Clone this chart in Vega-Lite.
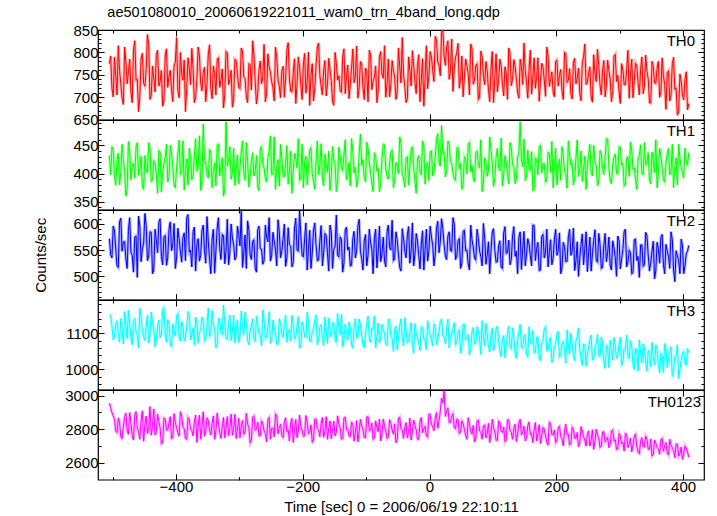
{
"$schema": "https://vega.github.io/schema/vega-lite/v6.json",
"padding": {"left": 33, "top": 5, "right": 5, "bottom": 2},
"bounds": "flush",
"title": {"text": "ae501080010_20060619221011_wam0_trn_4band_long.qdp", "anchor": "start", "dx": 74, "fontSize": 14.5, "fontWeight": "normal", "font": "Liberation Sans", "color": "#000", "offset": 1.5},
"config": {
  "view": {"stroke": "#000", "strokeWidth": 1.2},
  "axis": {"labelFont": "Liberation Sans", "labelFontSize": 15, "labelColor": "#000", "tickColor": "#000", "tickWidth": 1, "domain": false, "grid": false, "titleFont": "Liberation Sans", "titleFontSize": 15, "titleFontWeight": "normal", "titleColor": "#000", "labelFlush": false, "labelOverlap": false, "labelBound": false},
  "text": {"font": "Liberation Sans", "fontSize": 15, "color": "#000"},
  "point": {"size": 1}
},
"data": {"values": [
{"t":-505,"a":775,"b":432,"c":572,"d":1148,"e":2955},
{"t":-503,"a":792,"b":398,"c":541,"d":1150,"e":2930},
{"t":-501,"a":720,"b":448,"c":535,"d":1120,"e":2900},
{"t":-499,"a":701,"b":441,"c":596,"d":1082,"e":2880},
{"t":-497,"a":790,"b":398,"c":588,"d":1090,"e":2860},
{"t":-495,"a":748,"b":379,"c":552,"d":1127,"e":2790},
{"t":-493,"a":705,"b":425,"c":520,"d":1135,"e":2780},
{"t":-491,"a":815,"b":436,"c":517,"d":1096,"e":2868},
{"t":-489,"a":760,"b":380,"c":604,"d":1075,"e":2840},
{"t":-487,"a":730,"b":402,"c":611,"d":1141,"e":2755},
{"t":-485,"a":698,"b":452,"c":548,"d":1112,"e":2745},
{"t":-483,"a":684,"b":425,"c":566,"d":1070,"e":2812},
{"t":-481,"a":812,"b":405,"c":566,"d":1160,"e":2870},
{"t":-479,"a":779,"b":360,"c":533,"d":1118,"e":2896},
{"t":-477,"a":730,"b":372,"c":515,"d":1085,"e":2790},
{"t":-475,"a":757,"b":457,"c":589,"d":1164,"e":2770},
{"t":-473,"a":785,"b":440,"c":612,"d":1128,"e":2900},
{"t":-471,"a":712,"b":389,"c":546,"d":1086,"e":2838},
{"t":-469,"a":688,"b":415,"c":540,"d":1068,"e":2760},
{"t":-467,"a":805,"b":418,"c":508,"d":1133,"e":2735},
{"t":-465,"a":826,"b":392,"c":575,"d":1142,"e":2885},
{"t":-463,"a":738,"b":447,"c":577,"d":1102,"e":2905},
{"t":-461,"a":740,"b":455,"c":498,"d":1095,"e":2805},
{"t":-459,"a":668,"b":397,"c":615,"d":1059,"e":2786},
{"t":-457,"a":702,"b":410,"c":596,"d":1170,"e":2740},
{"t":-455,"a":786,"b":431,"c":528,"d":1146,"e":2850},
{"t":-453,"a":798,"b":378,"c":552,"d":1105,"e":2910},
{"t":-451,"a":731,"b":372,"c":563,"d":1091,"e":2728},
{"t":-449,"a":725,"b":432,"c":620,"d":1080,"e":2830},
{"t":-447,"a":762,"b":408,"c":597,"d":1120,"e":2879},
{"t":-445,"a":840,"b":401,"c":530,"d":1150,"e":2775},
{"t":-443,"a":817,"b":455,"c":539,"d":1073,"e":2802},
{"t":-441,"a":695,"b":446,"c":585,"d":1098,"e":2935},
{"t":-439,"a":704,"b":386,"c":584,"d":1159,"e":2764},
{"t":-437,"a":770,"b":388,"c":505,"d":1130,"e":2820},
{"t":-435,"a":743,"b":423,"c":512,"d":1110,"e":2921},
{"t":-433,"a":712,"b":420,"c":590,"d":1062,"e":2765},
{"t":-431,"a":795,"b":399,"c":569,"d":1082,"e":2784},
{"t":-429,"a":805,"b":365,"c":545,"d":1118,"e":2890},
{"t":-427,"a":725,"b":441,"c":603,"d":1137,"e":2846},
{"t":-425,"a":735,"b":438,"c":610,"d":1088,"e":2810},
{"t":-423,"a":760,"b":367,"c":538,"d":1097,"e":2713},
{"t":-421,"a":680,"b":402,"c":522,"d":1165,"e":2720},
{"t":-419,"a":692,"b":418,"c":575,"d":1171,"e":2867},
{"t":-417,"a":792,"b":428,"c":578,"d":1100,"e":2860},
{"t":-415,"a":808,"b":452,"c":521,"d":1075,"e":2795},
{"t":-413,"a":722,"b":385,"c":535,"d":1138,"e":2795},
{"t":-411,"a":747,"b":393,"c":590,"d":1125,"e":2838},
{"t":-409,"a":760,"b":450,"c":604,"d":1070,"e":2875},
{"t":-407,"a":716,"b":436,"c":549,"d":1063,"e":2744},
{"t":-405,"a":690,"b":412,"c":560,"d":1126,"e":2750},
{"t":-403,"a":771,"b":378,"c":601,"d":1106,"e":2893},
{"t":-401,"a":778,"b":375,"c":515,"d":1092,"e":2840},
{"t":-399,"a":833,"b":412,"c":535,"d":1149,"e":2808},
{"t":-397,"a":715,"b":435,"c":592,"d":1155,"e":2780},
{"t":-395,"a":699,"b":459,"c":572,"d":1088,"e":2758},
{"t":-393,"a":800,"b":398,"c":548,"d":1078,"e":2905},
{"t":-391,"a":752,"b":402,"c":527,"d":1133,"e":2877},
{"t":-389,"a":738,"b":458,"c":574,"d":1120,"e":2815},
{"t":-387,"a":783,"b":371,"c":583,"d":1079,"e":2802},
{"t":-385,"a":668,"b":405,"c":530,"d":1090,"e":2745},
{"t":-383,"a":721,"b":426,"c":612,"d":1118,"e":2740},
{"t":-381,"a":788,"b":380,"c":618,"d":1160,"e":2870},
{"t":-379,"a":765,"b":445,"c":546,"d":1152,"e":2856},
{"t":-377,"a":728,"b":430,"c":550,"d":1082,"e":2800},
{"t":-375,"a":809,"b":389,"c":518,"d":1094,"e":2791},
{"t":-373,"a":765,"b":395,"c":585,"d":1115,"e":2760},
{"t":-371,"a":688,"b":431,"c":594,"d":1067,"e":2842},
{"t":-369,"a":700,"b":462,"c":510,"d":1145,"e":2885},
{"t":-367,"a":741,"b":404,"c":561,"d":1131,"e":2722},
{"t":-365,"a":812,"b":410,"c":572,"d":1072,"e":2820},
{"t":-363,"a":794,"b":467,"c":529,"d":1102,"e":2884},
{"t":-361,"a":732,"b":370,"c":540,"d":1108,"e":2740},
{"t":-359,"a":714,"b":381,"c":587,"d":1145,"e":2811},
{"t":-357,"a":755,"b":488,"c":598,"d":1135,"e":2905},
{"t":-355,"a":767,"b":425,"c":550,"d":1078,"e":2758},
{"t":-353,"a":690,"b":418,"c":525,"d":1085,"e":2790},
{"t":-351,"a":731,"b":398,"c":614,"d":1124,"e":2869},
{"t":-349,"a":796,"b":392,"c":566,"d":1170,"e":2850},
{"t":-347,"a":817,"b":442,"c":533,"d":1091,"e":2797},
{"t":-345,"a":720,"b":440,"c":505,"d":1098,"e":2765},
{"t":-343,"a":697,"b":375,"c":571,"d":1163,"e":2833},
{"t":-341,"a":770,"b":402,"c":590,"d":1125,"e":2880},
{"t":-339,"a":754,"b":419,"c":506,"d":1110,"e":2740},
{"t":-337,"a":705,"b":378,"c":548,"d":1060,"e":2790},
{"t":-335,"a":785,"b":451,"c":592,"d":1071,"e":2896},
{"t":-333,"a":788,"b":452,"c":612,"d":1140,"e":2840},
{"t":-331,"a":722,"b":396,"c":554,"d":1139,"e":2782},
{"t":-329,"a":738,"b":415,"c":532,"d":1102,"e":2745},
{"t":-327,"a":763,"b":428,"c":580,"d":1096,"e":2815},
{"t":-325,"a":676,"b":360,"c":578,"d":1178,"e":2870},
{"t":-323,"a":706,"b":372,"c":524,"d":1128,"e":2749},
{"t":-321,"a":802,"b":492,"c":550,"d":1088,"e":2810},
{"t":-319,"a":799,"b":413,"c":609,"d":1083,"e":2876},
{"t":-317,"a":728,"b":425,"c":522,"d":1125,"e":2760},
{"t":-315,"a":739,"b":448,"c":545,"d":1150,"e":2807},
{"t":-313,"a":760,"b":390,"c":600,"d":1080,"e":2890},
{"t":-311,"a":678,"b":401,"c":574,"d":1104,"e":2764},
{"t":-309,"a":695,"b":445,"c":560,"d":1150,"e":2800},
{"t":-307,"a":785,"b":379,"c":531,"d":1073,"e":2889},
{"t":-305,"a":782,"b":408,"c":538,"d":1110,"e":2745},
{"t":-303,"a":751,"b":433,"c":596,"d":1136,"e":2801},
{"t":-301,"a":722,"b":382,"c":580,"d":1075,"e":2865},
{"t":-299,"a":719,"b":411,"c":558,"d":1092,"e":2749},
{"t":-297,"a":810,"b":438,"c":624,"d":1162,"e":2820},
{"t":-295,"a":803,"b":458,"c":517,"d":1119,"e":2852},
{"t":-293,"a":745,"b":402,"c":545,"d":1095,"e":2770},
{"t":-291,"a":742,"b":388,"c":579,"d":1158,"e":2786},
{"t":-289,"a":700,"b":455,"c":515,"d":1130,"e":2895},
{"t":-287,"a":688,"b":422,"c":606,"d":1080,"e":2830},
{"t":-285,"a":775,"b":376,"c":588,"d":1068,"e":2810},
{"t":-283,"a":773,"b":395,"c":541,"d":1108,"e":2719},
{"t":-281,"a":716,"b":420,"c":532,"d":1120,"e":2735},
{"t":-279,"a":826,"b":437,"c":567,"d":1140,"e":2871},
{"t":-277,"a":795,"b":396,"c":570,"d":1085,"e":2880},
{"t":-275,"a":735,"b":405,"c":515,"d":1077,"e":2794},
{"t":-273,"a":685,"b":432,"c":508,"d":1148,"e":2800},
{"t":-271,"a":708,"b":376,"c":589,"d":1121,"e":2843},
{"t":-269,"a":762,"b":370,"c":596,"d":1100,"e":2760},
{"t":-267,"a":781,"b":444,"c":553,"d":1094,"e":2762},
{"t":-265,"a":730,"b":448,"c":552,"d":1065,"e":2850},
{"t":-263,"a":744,"b":417,"c":523,"d":1164,"e":2836},
{"t":-261,"a":818,"b":410,"c":530,"d":1135,"e":2790},
{"t":-259,"a":690,"b":391,"c":598,"d":1086,"e":2776},
{"t":-257,"a":708,"b":385,"c":575,"d":1092,"e":2725},
{"t":-255,"a":797,"b":428,"c":566,"d":1115,"e":2858},
{"t":-253,"a":768,"b":440,"c":612,"d":1160,"e":2870},
{"t":-251,"a":756,"b":466,"c":529,"d":1072,"e":2740},
{"t":-249,"a":735,"b":398,"c":540,"d":1080,"e":2805},
{"t":-247,"a":721,"b":399,"c":584,"d":1137,"e":2807},
{"t":-245,"a":692,"b":465,"c":568,"d":1115,"e":2755},
{"t":-243,"a":812,"b":372,"c":551,"d":1101,"e":2891},
{"t":-241,"a":790,"b":412,"c":520,"d":1070,"e":2880},
{"t":-239,"a":738,"b":425,"c":608,"d":1068,"e":2773},
{"t":-237,"a":725,"b":378,"c":585,"d":1140,"e":2810},
{"t":-235,"a":699,"b":452,"c":535,"d":1129,"e":2829},
{"t":-233,"a":758,"b":428,"c":548,"d":1098,"e":2760},
{"t":-231,"a":769,"b":394,"c":572,"d":1088,"e":2750},
{"t":-229,"a":700,"b":395,"c":600,"d":1128,"e":2845},
{"t":-227,"a":743,"b":418,"c":519,"d":1150,"e":2869},
{"t":-225,"a":805,"b":450,"c":535,"d":1075,"e":2785},
{"t":-223,"a":822,"b":381,"c":593,"d":1107,"e":2796},
{"t":-221,"a":742,"b":405,"c":560,"d":1110,"e":2730},
{"t":-219,"a":713,"b":440,"c":558,"d":1079,"e":2840},
{"t":-217,"a":712,"b":365,"c":518,"d":1150,"e":2865},
{"t":-215,"a":755,"b":406,"c":527,"d":1122,"e":2721},
{"t":-213,"a":786,"b":436,"c":592,"d":1085,"e":2800},
{"t":-211,"a":686,"b":427,"c":611,"d":1093,"e":2858},
{"t":-209,"a":728,"b":410,"c":550,"d":1120,"e":2750},
{"t":-207,"a":790,"b":462,"c":548,"d":1146,"e":2787},
{"t":-205,"a":768,"b":388,"c":625,"d":1060,"e":2885},
{"t":-203,"a":727,"b":392,"c":577,"d":1062,"e":2813},
{"t":-201,"a":695,"b":452,"c":540,"d":1132,"e":2795},
{"t":-199,"a":774,"b":375,"c":537,"d":1117,"e":2758},
{"t":-197,"a":798,"b":420,"c":572,"d":1090,"e":2760},
{"t":-195,"a":709,"b":431,"c":602,"d":1089,"e":2882},
{"t":-193,"a":735,"b":380,"c":512,"d":1158,"e":2840},
{"t":-191,"a":801,"b":409,"c":551,"d":1134,"e":2773},
{"t":-189,"a":682,"b":442,"c":588,"d":1078,"e":2780},
{"t":-187,"a":749,"b":446,"c":515,"d":1077,"e":2826},
{"t":-185,"a":775,"b":400,"c":545,"d":1105,"e":2720},
{"t":-183,"a":692,"b":387,"c":588,"d":1112,"e":2737},
{"t":-181,"a":720,"b":372,"c":602,"d":1135,"e":2860},
{"t":-179,"a":770,"b":421,"c":560,"d":1151,"e":2861},
{"t":-177,"a":812,"b":458,"c":530,"d":1068,"e":2805},
{"t":-175,"a":821,"b":398,"c":531,"d":1085,"e":2792},
{"t":-173,"a":748,"b":415,"c":568,"d":1118,"e":2755},
{"t":-171,"a":725,"b":453,"c":597,"d":1123,"e":2835},
{"t":-169,"a":705,"b":392,"c":520,"d":1088,"e":2870},
{"t":-167,"a":761,"b":378,"c":544,"d":1066,"e":2752},
{"t":-165,"a":782,"b":435,"c":582,"d":1145,"e":2790},
{"t":-163,"a":703,"b":416,"c":578,"d":1108,"e":2875},
{"t":-161,"a":730,"b":402,"c":545,"d":1072,"e":2740},
{"t":-159,"a":787,"b":440,"c":510,"d":1142,"e":2804},
{"t":-157,"a":762,"b":370,"c":598,"d":1108,"e":2850},
{"t":-155,"a":737,"b":395,"c":585,"d":1090,"e":2744},
{"t":-153,"a":690,"b":448,"c":515,"d":1130,"e":2795},
{"t":-151,"a":682,"b":425,"c":552,"d":1127,"e":2848},
{"t":-149,"a":800,"b":418,"c":556,"d":1082,"e":2760},
{"t":-147,"a":776,"b":368,"c":617,"d":1075,"e":2783},
{"t":-145,"a":738,"b":385,"c":540,"d":1155,"e":2880},
{"t":-143,"a":748,"b":447,"c":537,"d":1115,"e":2829},
{"t":-141,"a":715,"b":432,"c":575,"d":1095,"e":2810},
{"t":-139,"a":711,"b":409,"c":571,"d":1153,"e":2741},
{"t":-137,"a":790,"b":405,"c":508,"d":1062,"e":2745},
{"t":-135,"a":808,"b":433,"c":525,"d":1082,"e":2867},
{"t":-133,"a":708,"b":460,"c":588,"d":1125,"e":2870},
{"t":-131,"a":746,"b":389,"c":594,"d":1102,"e":2798},
{"t":-129,"a":772,"b":395,"c":550,"d":1080,"e":2800},
{"t":-127,"a":697,"b":420,"c":556,"d":1131,"e":2760},
{"t":-125,"a":728,"b":378,"c":520,"d":1115,"e":2755},
{"t":-123,"a":765,"b":462,"c":521,"d":1069,"e":2841},
{"t":-121,"a":808,"b":440,"c":572,"d":1058,"e":2835},
{"t":-119,"a":732,"b":401,"c":586,"d":1118,"e":2729},
{"t":-117,"a":745,"b":412,"c":535,"d":1140,"e":2780},
{"t":-115,"a":814,"b":376,"c":548,"d":1087,"e":2852},
{"t":-113,"a":698,"b":390,"c":596,"d":1090,"e":2725},
{"t":-111,"a":722,"b":435,"c":609,"d":1140,"e":2785},
{"t":-109,"a":780,"b":470,"c":548,"d":1122,"e":2860},
{"t":-107,"a":774,"b":414,"c":534,"d":1095,"e":2820},
{"t":-105,"a":722,"b":425,"c":512,"d":1068,"e":2800},
{"t":-103,"a":695,"b":393,"c":567,"d":1060,"e":2751},
{"t":-101,"a":765,"b":385,"c":580,"d":1100,"e":2750},
{"t":-99,"a":758,"b":456,"c":520,"d":1126,"e":2873},
{"t":-97,"a":690,"b":445,"c":540,"d":1148,"e":2875},
{"t":-95,"a":805,"b":420,"c":590,"d":1083,"e":2790},
{"t":-93,"a":795,"b":402,"c":565,"d":1075,"e":2795},
{"t":-91,"a":717,"b":382,"c":551,"d":1114,"e":2838},
{"t":-89,"a":735,"b":368,"c":505,"d":1112,"e":2740},
{"t":-87,"a":744,"b":437,"c":574,"d":1148,"e":2746},
{"t":-85,"a":770,"b":430,"c":590,"d":1060,"e":2850},
{"t":-83,"a":688,"b":404,"c":516,"d":1092,"e":2809},
{"t":-81,"a":712,"b":410,"c":545,"d":1128,"e":2785},
{"t":-79,"a":790,"b":368,"c":596,"d":1073,"e":2861},
{"t":-77,"a":802,"b":382,"c":528,"d":1088,"e":2730},
{"t":-75,"a":752,"b":426,"c":543,"d":1125,"e":2769},
{"t":-73,"a":742,"b":452,"c":575,"d":1110,"e":2860},
{"t":-71,"a":815,"b":451,"c":529,"d":1099,"e":2822},
{"t":-69,"a":700,"b":408,"c":518,"d":1070,"e":2790},
{"t":-67,"a":728,"b":395,"c":584,"d":1067,"e":2744},
{"t":-65,"a":785,"b":390,"c":598,"d":1138,"e":2755},
{"t":-63,"a":701,"b":418,"c":555,"d":1138,"e":2857},
{"t":-61,"a":728,"b":438,"c":550,"d":1092,"e":2835},
{"t":-59,"a":782,"b":442,"c":607,"d":1085,"e":2796},
{"t":-57,"a":760,"b":375,"c":530,"d":1050,"e":2770},
{"t":-55,"a":745,"b":389,"c":533,"d":1110,"e":2832},
{"t":-53,"a":695,"b":420,"c":585,"d":1120,"e":2720},
{"t":-51,"a":711,"b":413,"c":570,"d":1054,"e":2737},
{"t":-49,"a":810,"b":400,"c":542,"d":1085,"e":2865},
{"t":-47,"a":768,"b":465,"c":517,"d":1120,"e":2872},
{"t":-45,"a":732,"b":455,"c":510,"d":1140,"e":2800},
{"t":-43,"a":833,"b":398,"c":591,"d":1087,"e":2795},
{"t":-41,"a":750,"b":392,"c":572,"d":1065,"e":2745},
{"t":-39,"a":724,"b":376,"c":548,"d":1143,"e":2812},
{"t":-37,"a":688,"b":428,"c":535,"d":1108,"e":2840},
{"t":-35,"a":697,"b":430,"c":579,"d":1074,"e":2748},
{"t":-33,"a":790,"b":380,"c":595,"d":1078,"e":2780},
{"t":-31,"a":759,"b":412,"c":525,"d":1105,"e":2866},
{"t":-29,"a":725,"b":445,"c":548,"d":1130,"e":2735},
{"t":-27,"a":804,"b":447,"c":602,"d":1066,"e":2786},
{"t":-25,"a":772,"b":410,"c":520,"d":1045,"e":2855},
{"t":-23,"a":733,"b":387,"c":541,"d":1127,"e":2823},
{"t":-21,"a":708,"b":365,"c":582,"d":1100,"e":2795},
{"t":-19,"a":771,"b":424,"c":568,"d":1090,"e":2741},
{"t":-17,"a":795,"b":432,"c":540,"d":1072,"e":2740},
{"t":-15,"a":690,"b":402,"c":514,"d":1052,"e":2845},
{"t":-13,"a":738,"b":398,"c":560,"d":1118,"e":2870},
{"t":-11,"a":786,"b":458,"c":587,"d":1114,"e":2779},
{"t":-9,"a":680,"b":450,"c":512,"d":1085,"e":2805},
{"t":-7,"a":742,"b":381,"c":551,"d":1079,"e":2817},
{"t":-5,"a":815,"b":415,"c":590,"d":1055,"e":2760},
{"t":-3,"a":719,"b":420,"c":529,"d":1135,"e":2753},
{"t":-1,"a":748,"b":388,"c":548,"d":1110,"e":2890},
{"t":1,"a":802,"b":439,"c":596,"d":1097,"e":2888},
{"t":3,"a":790,"b":440,"c":575,"d":1080,"e":2830},
{"t":5,"a":760,"b":396,"c":560,"d":1065,"e":2815},
{"t":7,"a":735,"b":402,"c":520,"d":1125,"e":2790},
{"t":9,"a":836,"b":428,"c":543,"d":1118,"e":2869},
{"t":11,"a":828,"b":462,"c":592,"d":1068,"e":2900},
{"t":13,"a":779,"b":471,"c":605,"d":1084,"e":2806},
{"t":15,"a":770,"b":420,"c":545,"d":1105,"e":2850},
{"t":17,"a":748,"b":413,"c":566,"d":1131,"e":2907},
{"t":19,"a":845,"b":485,"c":610,"d":1140,"e":2985},
{"t":21,"a":851,"b":436,"c":591,"d":1093,"e":2957},
{"t":23,"a":792,"b":438,"c":560,"d":1090,"e":3030},
{"t":25,"a":771,"b":394,"c":538,"d":1071,"e":2876},
{"t":27,"a":812,"b":405,"c":532,"d":1115,"e":2910},
{"t":29,"a":826,"b":458,"c":577,"d":1139,"e":2928},
{"t":31,"a":740,"b":452,"c":585,"d":1060,"e":2840},
{"t":33,"a":758,"b":421,"c":549,"d":1086,"e":2842},
{"t":35,"a":830,"b":418,"c":548,"d":1098,"e":2880},
{"t":37,"a":713,"b":401,"c":612,"d":1112,"e":2894},
{"t":39,"a":765,"b":390,"c":600,"d":1130,"e":2810},
{"t":41,"a":789,"b":388,"c":532,"d":1068,"e":2803},
{"t":43,"a":800,"b":445,"c":538,"d":1075,"e":2860},
{"t":45,"a":820,"b":447,"c":568,"d":1103,"e":2857},
{"t":47,"a":720,"b":408,"c":572,"d":1110,"e":2775},
{"t":49,"a":742,"b":418,"c":515,"d":1045,"e":2781},
{"t":51,"a":792,"b":372,"c":525,"d":1062,"e":2850},
{"t":53,"a":701,"b":380,"c":586,"d":1125,"e":2833},
{"t":55,"a":745,"b":430,"c":588,"d":1125,"e":2800},
{"t":57,"a":785,"b":426,"c":549,"d":1082,"e":2764},
{"t":59,"a":770,"b":400,"c":550,"d":1085,"e":2740},
{"t":61,"a":753,"b":452,"c":524,"d":1097,"e":2869},
{"t":63,"a":705,"b":455,"c":512,"d":1040,"e":2830},
{"t":65,"a":819,"b":403,"c":598,"d":1058,"e":2790},
{"t":67,"a":808,"b":415,"c":570,"d":1105,"e":2770},
{"t":69,"a":729,"b":391,"c":556,"d":1116,"e":2823},
{"t":71,"a":738,"b":385,"c":535,"d":1070,"e":2725},
{"t":73,"a":771,"b":437,"c":531,"d":1074,"e":2742},
{"t":75,"a":775,"b":440,"c":590,"d":1118,"e":2850},
{"t":77,"a":695,"b":414,"c":572,"d":1106,"e":2854},
{"t":79,"a":700,"b":410,"c":548,"d":1080,"e":2790},
{"t":81,"a":803,"b":460,"c":538,"d":1041,"e":2781},
{"t":83,"a":790,"b":368,"c":520,"d":1135,"e":2740},
{"t":85,"a":748,"b":385,"c":601,"d":1089,"e":2819},
{"t":87,"a":728,"b":428,"c":575,"d":1065,"e":2825},
{"t":89,"a":780,"b":422,"c":523,"d":1128,"e":2748},
{"t":91,"a":760,"b":395,"c":540,"d":1100,"e":2770},
{"t":93,"a":716,"b":405,"c":566,"d":1062,"e":2835},
{"t":95,"a":690,"b":465,"c":505,"d":1048,"e":2720},
{"t":97,"a":764,"b":443,"c":549,"d":1095,"e":2777},
{"t":99,"a":802,"b":420,"c":585,"d":1115,"e":2860},
{"t":101,"a":688,"b":377,"c":591,"d":1051,"e":2808},
{"t":103,"a":742,"b":392,"c":550,"d":1068,"e":2785},
{"t":105,"a":797,"b":429,"c":527,"d":1112,"e":2734},
{"t":107,"a":712,"b":445,"c":528,"d":1120,"e":2735},
{"t":109,"a":738,"b":411,"c":558,"d":1076,"e":2849},
{"t":111,"a":785,"b":405,"c":568,"d":1050,"e":2840},
{"t":113,"a":771,"b":463,"c":518,"d":1035,"e":2790},
{"t":115,"a":730,"b":378,"c":515,"d":1085,"e":2780},
{"t":117,"a":703,"b":398,"c":583,"d":1094,"e":2814},
{"t":119,"a":768,"b":432,"c":595,"d":1032,"e":2725},
{"t":121,"a":752,"b":420,"c":544,"d":1066,"e":2738},
{"t":123,"a":695,"b":400,"c":545,"d":1100,"e":2855},
{"t":125,"a":810,"b":382,"c":569,"d":1120,"e":2856},
{"t":127,"a":798,"b":455,"c":522,"d":1062,"e":2790},
{"t":129,"a":726,"b":446,"c":532,"d":1057,"e":2781},
{"t":131,"a":740,"b":415,"c":578,"d":1115,"e":2740},
{"t":133,"a":784,"b":413,"c":595,"d":1087,"e":2805},
{"t":135,"a":770,"b":382,"c":538,"d":1045,"e":2830},
{"t":137,"a":742,"b":390,"c":548,"d":1030,"e":2727},
{"t":139,"a":710,"b":430,"c":505,"d":1080,"e":2775},
{"t":141,"a":698,"b":437,"c":575,"d":1105,"e":2837},
{"t":143,"a":785,"b":492,"c":585,"d":1125,"e":2860},
{"t":145,"a":768,"b":425,"c":513,"d":1062,"e":2765},
{"t":147,"a":728,"b":412,"c":552,"d":1058,"e":2785},
{"t":149,"a":821,"b":461,"c":586,"d":1092,"e":2819},
{"t":151,"a":760,"b":388,"c":520,"d":1095,"e":2730},
{"t":153,"a":735,"b":394,"c":541,"d":1040,"e":2748},
{"t":155,"a":698,"b":442,"c":572,"d":1035,"e":2820},
{"t":157,"a":762,"b":408,"c":562,"d":1118,"e":2844},
{"t":159,"a":805,"b":405,"c":540,"d":1072,"e":2770},
{"t":161,"a":707,"b":439,"c":520,"d":1071,"e":2773},
{"t":163,"a":745,"b":370,"c":598,"d":1108,"e":2720},
{"t":165,"a":788,"b":371,"c":597,"d":1046,"e":2796},
{"t":167,"a":720,"b":428,"c":530,"d":1048,"e":2840},
{"t":169,"a":745,"b":424,"c":553,"d":1089,"e":2730},
{"t":171,"a":788,"b":398,"c":565,"d":1090,"e":2775},
{"t":173,"a":691,"b":447,"c":511,"d":1028,"e":2827},
{"t":175,"a":735,"b":450,"c":512,"d":1025,"e":2715},
{"t":177,"a":776,"b":401,"c":576,"d":1074,"e":2761},
{"t":179,"a":768,"b":418,"c":580,"d":1080,"e":2810},
{"t":181,"a":739,"b":418,"c":535,"d":1112,"e":2800},
{"t":183,"a":702,"b":385,"c":545,"d":1118,"e":2760},
{"t":185,"a":812,"b":389,"c":590,"d":1051,"e":2722},
{"t":187,"a":792,"b":438,"c":518,"d":1052,"e":2705},
{"t":189,"a":724,"b":435,"c":547,"d":1081,"e":2842},
{"t":191,"a":740,"b":402,"c":570,"d":1088,"e":2835},
{"t":193,"a":757,"b":457,"c":522,"d":1019,"e":2767},
{"t":195,"a":712,"b":375,"c":535,"d":1030,"e":2770},
{"t":197,"a":701,"b":412,"c":571,"d":1066,"e":2795},
{"t":199,"a":780,"b":445,"c":590,"d":1070,"e":2720},
{"t":201,"a":783,"b":380,"c":540,"d":1097,"e":2735},
{"t":203,"a":725,"b":410,"c":548,"d":1105,"e":2810},
{"t":205,"a":749,"b":426,"c":583,"d":1034,"e":2818},
{"t":207,"a":762,"b":388,"c":505,"d":1040,"e":2755},
{"t":209,"a":715,"b":448,"c":516,"d":1075,"e":2741},
{"t":211,"a":695,"b":432,"c":565,"d":1078,"e":2700},
{"t":213,"a":800,"b":403,"c":557,"d":1052,"e":2796},
{"t":215,"a":798,"b":400,"c":528,"d":1018,"e":2830},
{"t":217,"a":733,"b":374,"c":529,"d":1109,"e":2766},
{"t":219,"a":738,"b":458,"c":575,"d":1065,"e":2770},
{"t":221,"a":764,"b":433,"c":590,"d":1042,"e":2706},
{"t":223,"a":708,"b":415,"c":540,"d":1100,"e":2715},
{"t":225,"a":696,"b":419,"c":547,"d":1071,"e":2812},
{"t":227,"a":778,"b":380,"c":592,"d":1038,"e":2800},
{"t":229,"a":787,"b":392,"c":511,"d":1024,"e":2747},
{"t":231,"a":730,"b":428,"c":530,"d":1080,"e":2745},
{"t":233,"a":743,"b":460,"c":566,"d":1090,"e":2781},
{"t":235,"a":765,"b":395,"c":500,"d":1115,"e":2695},
{"t":237,"a":710,"b":408,"c":534,"d":1055,"e":2719},
{"t":239,"a":692,"b":440,"c":560,"d":1032,"e":2815},
{"t":241,"a":776,"b":386,"c":581,"d":1011,"e":2790},
{"t":243,"a":790,"b":408,"c":522,"d":1070,"e":2755},
{"t":245,"a":819,"b":431,"c":553,"d":1068,"e":2735},
{"t":247,"a":728,"b":372,"c":585,"d":1008,"e":2700},
{"t":249,"a":734,"b":414,"c":509,"d":1041,"e":2772},
{"t":251,"a":755,"b":432,"c":545,"d":1062,"e":2790},
{"t":253,"a":768,"b":452,"c":575,"d":1083,"e":2700},
{"t":255,"a":700,"b":402,"c":510,"d":1095,"e":2730},
{"t":257,"a":689,"b":396,"c":543,"d":1026,"e":2797},
{"t":259,"a":795,"b":450,"c":568,"d":1028,"e":2680},
{"t":261,"a":752,"b":421,"c":589,"d":1060,"e":2728},
{"t":263,"a":735,"b":415,"c":530,"d":1072,"e":2800},
{"t":265,"a":807,"b":378,"c":527,"d":1097,"e":2765},
{"t":267,"a":770,"b":385,"c":582,"d":1040,"e":2745},
{"t":269,"a":727,"b":441,"c":561,"d":1035,"e":2691},
{"t":271,"a":705,"b":435,"c":515,"d":1090,"e":2700},
{"t":273,"a":760,"b":409,"c":517,"d":1072,"e":2783},
{"t":275,"a":782,"b":398,"c":560,"d":1022,"e":2785},
{"t":277,"a":701,"b":427,"c":582,"d":1003,"e":2724},
{"t":279,"a":725,"b":462,"c":528,"d":1068,"e":2735},
{"t":281,"a":783,"b":461,"c":545,"d":1058,"e":2752},
{"t":283,"a":760,"b":410,"c":575,"d":1005,"e":2690},
{"t":285,"a":741,"b":388,"c":521,"d":1081,"e":2711},
{"t":287,"a":690,"b":382,"c":512,"d":1052,"e":2790},
{"t":289,"a":713,"b":416,"c":568,"d":1027,"e":2796},
{"t":291,"a":792,"b":430,"c":555,"d":1088,"e":2730},
{"t":293,"a":796,"b":435,"c":536,"d":1064,"e":2737},
{"t":295,"a":735,"b":400,"c":500,"d":1030,"e":2680},
{"t":297,"a":749,"b":399,"c":577,"d":1040,"e":2683},
{"t":299,"a":712,"b":448,"c":568,"d":1070,"e":2775},
{"t":301,"a":686,"b":447,"c":514,"d":1089,"e":2761},
{"t":303,"a":775,"b":415,"c":532,"d":1012,"e":2715},
{"t":305,"a":763,"b":418,"c":551,"d":1018,"e":2722},
{"t":307,"a":728,"b":378,"c":585,"d":1058,"e":2670},
{"t":309,"a":728,"b":381,"c":590,"d":1057,"e":2774},
{"t":311,"a":762,"b":428,"c":518,"d":1095,"e":2770},
{"t":313,"a":805,"b":430,"c":527,"d":1036,"e":2690},
{"t":315,"a":698,"b":395,"c":550,"d":1030,"e":2710},
{"t":317,"a":752,"b":456,"c":545,"d":1080,"e":2748},
{"t":319,"a":785,"b":442,"c":505,"d":1065,"e":2665},
{"t":321,"a":699,"b":407,"c":507,"d":1012,"e":2706},
{"t":323,"a":735,"b":410,"c":570,"d":1000,"e":2760},
{"t":325,"a":776,"b":389,"c":571,"d":1059,"e":2771},
{"t":327,"a":770,"b":372,"c":530,"d":1048,"e":2700},
{"t":329,"a":733,"b":426,"c":538,"d":995,"e":2662},
{"t":331,"a":705,"b":432,"c":498,"d":1082,"e":2655},
{"t":333,"a":762,"b":451,"c":560,"d":1046,"e":2729},
{"t":335,"a":790,"b":400,"c":560,"d":1018,"e":2750},
{"t":337,"a":708,"b":398,"c":519,"d":1071,"e":2694},
{"t":339,"a":725,"b":455,"c":522,"d":1060,"e":2695},
{"t":341,"a":794,"b":415,"c":584,"d":1022,"e":2758},
{"t":343,"a":758,"b":418,"c":578,"d":995,"e":2740},
{"t":345,"a":741,"b":437,"c":541,"d":1053,"e":2680},
{"t":347,"a":688,"b":388,"c":510,"d":1042,"e":2680},
{"t":349,"a":687,"b":382,"c":526,"d":1007,"e":2742},
{"t":351,"a":780,"b":438,"c":548,"d":1075,"e":2640},
{"t":353,"a":769,"b":422,"c":567,"d":1036,"e":2651},
{"t":355,"a":732,"b":402,"c":495,"d":1012,"e":2735},
{"t":357,"a":731,"b":460,"c":511,"d":1068,"e":2717},
{"t":359,"a":765,"b":375,"c":565,"d":1055,"e":2690},
{"t":361,"a":780,"b":401,"c":553,"d":1014,"e":2683},
{"t":363,"a":700,"b":445,"c":525,"d":990,"e":2650},
{"t":365,"a":712,"b":431,"c":574,"d":1045,"e":2736},
{"t":367,"a":788,"b":410,"c":580,"d":1040,"e":2745},
{"t":369,"a":748,"b":389,"c":522,"d":992,"e":2668},
{"t":371,"a":728,"b":385,"c":505,"d":1072,"e":2700},
{"t":373,"a":673,"b":418,"c":561,"d":1058,"e":2721},
{"t":375,"a":755,"b":435,"c":548,"d":1005,"e":2660},
{"t":377,"a":759,"b":445,"c":538,"d":1028,"e":2646},
{"t":379,"a":692,"b":398,"c":515,"d":1048,"e":2740},
{"t":381,"a":705,"b":403,"c":585,"d":1063,"e":2705},
{"t":383,"a":775,"b":452,"c":570,"d":980,"e":2690},
{"t":385,"a":789,"b":375,"c":512,"d":1001,"e":2673},
{"t":387,"a":718,"b":412,"c":490,"d":1035,"e":2630},
{"t":389,"a":721,"b":428,"c":549,"d":1039,"e":2712},
{"t":391,"a":660,"b":380,"c":540,"d":1068,"e":2710},
{"t":393,"a":668,"b":452,"c":530,"d":975,"e":2640},
{"t":395,"a":752,"b":428,"c":505,"d":1000,"e":2655},
{"t":397,"a":736,"b":411,"c":571,"d":1024,"e":2694},
{"t":399,"a":705,"b":402,"c":560,"d":1045,"e":2620},
{"t":401,"a":694,"b":392,"c":505,"d":1050,"e":2655},
{"t":403,"a":740,"b":445,"c":520,"d":1015,"e":2700},
{"t":405,"a":757,"b":420,"c":543,"d":1012,"e":2688},
{"t":407,"a":672,"b":415,"c":548,"d":1058,"e":2665},
{"t":409,"a":686,"b":437,"c":559,"d":1046,"e":2632}
]},
"spacing": 0,
"vconcat": [
{
 "width": 606, "height": 89.7,
 "resolve": {"axis": {"x": "independent", "y": "independent"}},
 "layer": [
  {"mark": {"type": "line", "color": "#ff0000", "strokeWidth": 3, "opacity": 0.3, "clip": true},
   "encoding": {
    "x": {"field": "t", "type": "quantitative", "scale": {"domain": [-523, 433], "nice": false, "zero": false}, "axis": {"orient": "bottom", "values": [-400, -200, 0, 200, 400], "tickSize": -6, "labels": false, "title": null}},
    "y": {"field": "a", "type": "quantitative", "scale": {"domain": [650, 850], "nice": false, "zero": false}, "axis": {"orient": "left", "values": [650, 700, 750, 800, 850], "format": "d", "tickSize": -6, "labelPadding": 6, "title": null}}}},
  {"mark": {"type": "line", "color": "#ff0000", "strokeWidth": 1, "clip": true},
   "encoding": {
    "x": {"field": "t", "type": "quantitative", "axis": {"orient": "bottom", "values": [-500, -300, -100, 100, 300], "tickSize": -3, "labels": false, "title": null}},
    "y": {"field": "a", "type": "quantitative", "axis": {"orient": "left", "values": [660, 670, 680, 690, 710, 720, 730, 740, 760, 770, 780, 790, 810, 820, 830, 840], "tickSize": -3, "labels": false, "title": null}}}},
  {"mark": {"type": "point", "opacity": 0},
   "encoding": {
    "x": {"field": "t", "type": "quantitative", "axis": {"orient": "top", "values": [-400, -200, 0, 200, 400], "tickSize": -6, "labels": false, "title": null}},
    "y": {"field": "a", "type": "quantitative", "axis": {"orient": "right", "values": [650, 700, 750, 800, 850], "tickSize": -6, "labels": false, "title": null}}}},
  {"mark": {"type": "point", "opacity": 0},
   "encoding": {
    "x": {"field": "t", "type": "quantitative", "axis": {"orient": "top", "values": [-500, -300, -100, 100, 300], "tickSize": -3, "labels": false, "title": null}},
    "y": {"field": "a", "type": "quantitative", "axis": {"orient": "right", "values": [660, 670, 680, 690, 710, 720, 730, 740, 760, 770, 780, 790, 810, 820, 830, 840], "tickSize": -3, "labels": false, "title": null}}}},
  {"data": {"values": [{"label": "TH0"}]},
   "mark": {"type": "text", "align": "right", "baseline": "alphabetic", "dx": -9, "dy": 15.5},
   "encoding": {"x": {"datum": 433, "type": "quantitative", "axis": null}, "y": {"datum": 850, "type": "quantitative", "axis": null}, "text": {"field": "label"}}}
 ]
},
{
 "width": 606, "height": 89.7,
 "resolve": {"axis": {"x": "independent", "y": "independent"}},
 "layer": [
  {"mark": {"type": "line", "color": "#00ff00", "strokeWidth": 3, "opacity": 0.3, "clip": true},
   "encoding": {
    "x": {"field": "t", "type": "quantitative", "scale": {"domain": [-523, 433], "nice": false, "zero": false}, "axis": {"orient": "bottom", "values": [-400, -200, 0, 200, 400], "tickSize": -6, "labels": false, "title": null}},
    "y": {"field": "b", "type": "quantitative", "scale": {"domain": [336, 495], "nice": false, "zero": false}, "axis": {"orient": "left", "values": [350, 400, 450], "format": "d", "tickSize": -6, "labelPadding": 6, "title": null}}}},
  {"mark": {"type": "line", "color": "#00ff00", "strokeWidth": 1, "clip": true},
   "encoding": {
    "x": {"field": "t", "type": "quantitative", "axis": {"orient": "bottom", "values": [-500, -300, -100, 100, 300], "tickSize": -3, "labels": false, "title": null}},
    "y": {"field": "b", "type": "quantitative", "axis": {"orient": "left", "values": [340, 360, 370, 380, 390, 410, 420, 430, 440, 460, 470, 480, 490], "tickSize": -3, "labels": false, "title": null}}}},
  {"mark": {"type": "point", "opacity": 0},
   "encoding": {
    "x": {"field": "t", "type": "quantitative", "axis": {"orient": "top", "values": [-400, -200, 0, 200, 400], "tickSize": -6, "labels": false, "title": null}},
    "y": {"field": "b", "type": "quantitative", "axis": {"orient": "right", "values": [350, 400, 450], "tickSize": -6, "labels": false, "title": null}}}},
  {"mark": {"type": "point", "opacity": 0},
   "encoding": {
    "x": {"field": "t", "type": "quantitative", "axis": {"orient": "top", "values": [-500, -300, -100, 100, 300], "tickSize": -3, "labels": false, "title": null}},
    "y": {"field": "b", "type": "quantitative", "axis": {"orient": "right", "values": [340, 360, 370, 380, 390, 410, 420, 430, 440, 460, 470, 480, 490], "tickSize": -3, "labels": false, "title": null}}}},
  {"data": {"values": [{"label": "TH1"}]},
   "mark": {"type": "text", "align": "right", "baseline": "alphabetic", "dx": -9, "dy": 16},
   "encoding": {"x": {"datum": 433, "type": "quantitative", "axis": null}, "y": {"datum": 495, "type": "quantitative", "axis": null}, "text": {"field": "label"}}}
 ]
},
{
 "width": 606, "height": 89.7,
 "resolve": {"axis": {"x": "independent", "y": "independent"}},
 "layer": [
  {"mark": {"type": "line", "color": "#0000ff", "strokeWidth": 3, "opacity": 0.3, "clip": true},
   "encoding": {
    "x": {"field": "t", "type": "quantitative", "scale": {"domain": [-523, 433], "nice": false, "zero": false}, "axis": {"orient": "bottom", "values": [-400, -200, 0, 200, 400], "tickSize": -6, "labels": false, "title": null}},
    "y": {"field": "c", "type": "quantitative", "scale": {"domain": [455.5, 626.6], "nice": false, "zero": false}, "axis": {"orient": "left", "values": [500, 550, 600], "format": "d", "tickSize": -6, "labelPadding": 6, "title": "Counts/sec", "titlePadding": 24}}}},
  {"mark": {"type": "line", "color": "#0000ff", "strokeWidth": 1, "clip": true},
   "encoding": {
    "x": {"field": "t", "type": "quantitative", "axis": {"orient": "bottom", "values": [-500, -300, -100, 100, 300], "tickSize": -3, "labels": false, "title": null}},
    "y": {"field": "c", "type": "quantitative", "axis": {"orient": "left", "values": [460, 470, 480, 490, 510, 520, 530, 540, 560, 570, 580, 590, 610, 620], "tickSize": -3, "labels": false, "title": null}}}},
  {"mark": {"type": "point", "opacity": 0},
   "encoding": {
    "x": {"field": "t", "type": "quantitative", "axis": {"orient": "top", "values": [-400, -200, 0, 200, 400], "tickSize": -6, "labels": false, "title": null}},
    "y": {"field": "c", "type": "quantitative", "axis": {"orient": "right", "values": [500, 550, 600], "tickSize": -6, "labels": false, "title": null}}}},
  {"mark": {"type": "point", "opacity": 0},
   "encoding": {
    "x": {"field": "t", "type": "quantitative", "axis": {"orient": "top", "values": [-500, -300, -100, 100, 300], "tickSize": -3, "labels": false, "title": null}},
    "y": {"field": "c", "type": "quantitative", "axis": {"orient": "right", "values": [460, 470, 480, 490, 510, 520, 530, 540, 560, 570, 580, 590, 610, 620], "tickSize": -3, "labels": false, "title": null}}}},
  {"data": {"values": [{"label": "TH2"}]},
   "mark": {"type": "text", "align": "right", "baseline": "alphabetic", "dx": -9, "dy": 16},
   "encoding": {"x": {"datum": 433, "type": "quantitative", "axis": null}, "y": {"datum": 626.6, "type": "quantitative", "axis": null}, "text": {"field": "label"}}}
 ]
},
{
 "width": 606, "height": 89.7,
 "resolve": {"axis": {"x": "independent", "y": "independent"}},
 "layer": [
  {"mark": {"type": "line", "color": "#00ffff", "strokeWidth": 3, "opacity": 0.3, "clip": true},
   "encoding": {
    "x": {"field": "t", "type": "quantitative", "scale": {"domain": [-523, 433], "nice": false, "zero": false}, "axis": {"orient": "bottom", "values": [-400, -200, 0, 200, 400], "tickSize": -6, "labels": false, "title": null}},
    "y": {"field": "d", "type": "quantitative", "scale": {"domain": [944, 1192], "nice": false, "zero": false}, "axis": {"orient": "left", "values": [1000, 1100], "format": "d", "tickSize": -6, "labelPadding": 6, "title": null}}}},
  {"mark": {"type": "line", "color": "#00ffff", "strokeWidth": 1, "clip": true},
   "encoding": {
    "x": {"field": "t", "type": "quantitative", "axis": {"orient": "bottom", "values": [-500, -300, -100, 100, 300], "tickSize": -3, "labels": false, "title": null}},
    "y": {"field": "d", "type": "quantitative", "axis": {"orient": "left", "values": [960, 980, 1020, 1040, 1060, 1080, 1120, 1140, 1160, 1180], "tickSize": -3, "labels": false, "title": null}}}},
  {"mark": {"type": "point", "opacity": 0},
   "encoding": {
    "x": {"field": "t", "type": "quantitative", "axis": {"orient": "top", "values": [-400, -200, 0, 200, 400], "tickSize": -6, "labels": false, "title": null}},
    "y": {"field": "d", "type": "quantitative", "axis": {"orient": "right", "values": [1000, 1100], "tickSize": -6, "labels": false, "title": null}}}},
  {"mark": {"type": "point", "opacity": 0},
   "encoding": {
    "x": {"field": "t", "type": "quantitative", "axis": {"orient": "top", "values": [-500, -300, -100, 100, 300], "tickSize": -3, "labels": false, "title": null}},
    "y": {"field": "d", "type": "quantitative", "axis": {"orient": "right", "values": [960, 980, 1020, 1040, 1060, 1080, 1120, 1140, 1160, 1180], "tickSize": -3, "labels": false, "title": null}}}},
  {"data": {"values": [{"label": "TH3"}]},
   "mark": {"type": "text", "align": "right", "baseline": "alphabetic", "dx": -9, "dy": 16},
   "encoding": {"x": {"datum": 433, "type": "quantitative", "axis": null}, "y": {"datum": 1192, "type": "quantitative", "axis": null}, "text": {"field": "label"}}}
 ]
},
{
 "width": 606, "height": 89.7,
 "resolve": {"axis": {"x": "independent", "y": "independent"}},
 "layer": [
  {"mark": {"type": "line", "color": "#ff00ff", "strokeWidth": 3, "opacity": 0.3, "clip": true},
   "encoding": {
    "x": {"field": "t", "type": "quantitative", "scale": {"domain": [-523, 433], "nice": false, "zero": false}, "axis": {"orient": "bottom", "values": [-400, -200, 0, 200, 400], "tickSize": -6, "labelPadding": 6, "title": "Time [sec] 0 = 2006/06/19 22:10:11", "titlePadding": 5}},
    "y": {"field": "e", "type": "quantitative", "scale": {"domain": [2499, 3034], "nice": false, "zero": false}, "axis": {"orient": "left", "values": [2600, 2800, 3000], "format": "d", "tickSize": -6, "labelPadding": 6, "title": null}}}},
  {"mark": {"type": "line", "color": "#ff00ff", "strokeWidth": 1, "clip": true},
   "encoding": {
    "x": {"field": "t", "type": "quantitative", "axis": {"orient": "bottom", "values": [-500, -300, -100, 100, 300], "tickSize": -3, "labels": false, "title": null}},
    "y": {"field": "e", "type": "quantitative", "axis": {"orient": "left", "values": [2700, 2900], "tickSize": -3, "labels": false, "title": null}}}},
  {"mark": {"type": "point", "opacity": 0},
   "encoding": {
    "x": {"field": "t", "type": "quantitative", "axis": {"orient": "top", "values": [-400, -200, 0, 200, 400], "tickSize": -6, "labels": false, "title": null}},
    "y": {"field": "e", "type": "quantitative", "axis": {"orient": "right", "values": [2600, 2800, 3000], "tickSize": -6, "labels": false, "title": null}}}},
  {"mark": {"type": "point", "opacity": 0},
   "encoding": {
    "x": {"field": "t", "type": "quantitative", "axis": {"orient": "top", "values": [-500, -300, -100, 100, 300], "tickSize": -3, "labels": false, "title": null}},
    "y": {"field": "e", "type": "quantitative", "axis": {"orient": "right", "values": [2700, 2900], "tickSize": -3, "labels": false, "title": null}}}},
  {"data": {"values": [{"label": "TH0123"}]},
   "mark": {"type": "text", "align": "right", "baseline": "alphabetic", "dx": -3, "dy": 16.7},
   "encoding": {"x": {"datum": 433, "type": "quantitative", "axis": null}, "y": {"datum": 3034, "type": "quantitative", "axis": null}, "text": {"field": "label"}}}
 ]
}
]
}
